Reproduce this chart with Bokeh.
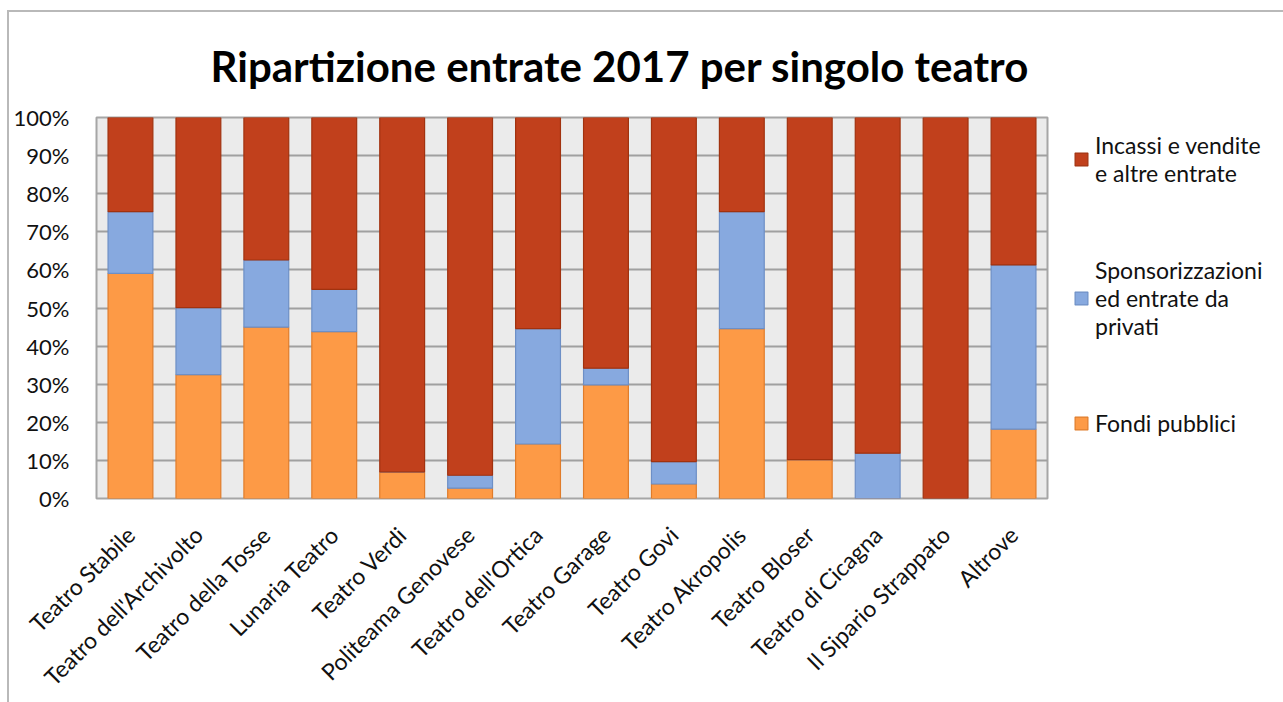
from bokeh.plotting import figure
from bokeh.models import (ColumnDataSource, Range1d, FactorRange, FixedTicker,
                          PrintfTickFormatter, Legend, LegendItem)
from bokeh.embed import file_html
from bokeh.resources import INLINE
import math

teatri = ["Teatro Stabile", "Teatro dell'Archivolto", "Teatro della Tosse",
          "Lunaria Teatro", "Teatro Verdi", "Politeama Genovese",
          "Teatro dell'Ortica", "Teatro Garage", "Teatro Govi",
          "Teatro Akropolis", "Teatro Bloser", "Teatro di Cicagna",
          "Il Sipario Strappato", "Altrove"]
fondi_pubblici = [59.1, 32.5, 45.0, 43.8, 7.0, 2.7, 14.3, 29.8, 3.8, 44.6, 10.2, 0.0, 0.0, 18.2]
sponsorizzazioni = [16.2, 17.6, 17.6, 11.1, 0.0, 3.4, 30.3, 4.4, 5.9, 30.7, 0.0, 11.9, 0.0, 43.1]
incassi = [24.7, 49.9, 37.4, 45.1, 93.0, 93.9, 55.4, 65.8, 90.3, 24.7, 89.8, 88.1, 100.0, 38.7]
serie = ["fondi", "sponsor", "incassi"]
nomi_legenda = ["Fondi pubblici",
                "Sponsorizzazioni\ned entrate da\nprivati",
                "Incassi e vendite\ne altre entrate"]
colori = ["#fd9a46", "#87a9df", "#c1401c"]
bordi = ["#e07c2a", "#6d8fc6", "#a1320f"]
titolo = "Ripartizione entrate 2017 per singolo teatro"
yticks = list(range(0, 101, 10))

FONT = "Lato"

source = ColumnDataSource(dict(teatro=teatri, fondi=fondi_pubblici,
                               sponsor=sponsorizzazioni, incassi=incassi))

p = figure(x_range=FactorRange(factors=teatri, range_padding=0),
           y_range=Range1d(0, 100),
           frame_width=951, frame_height=381,
           min_border_left=87, min_border_right=228,
           min_border_top=105, min_border_bottom=186,
           output_backend="svg", toolbar_location=None, tools="")

renderers = p.vbar_stack(serie, x="teatro", width=0.66, source=source,
                         fill_color=colori, line_color=bordi, line_width=1.2)

p.background_fill_color = "#ebebeb"
p.outline_line_color = "#a6a6a6"
p.outline_line_width = 2
p.xgrid.grid_line_color = None
p.ygrid.grid_line_color = "#a0a0a0"
p.ygrid.grid_line_width = 2
p.yaxis.ticker = FixedTicker(ticks=yticks)
p.yaxis.formatter = PrintfTickFormatter(format="%d%%")

for ax in (p.xaxis[0], p.yaxis[0]):
    ax.axis_line_color = None
    ax.major_tick_line_color = None
    ax.minor_tick_line_color = None
    ax.major_label_text_font = FONT
    ax.major_label_text_color = "#111111"
p.yaxis.major_label_text_font_size = "22px"
p.xaxis.major_label_text_font_size = "23px"
p.yaxis.major_label_standoff = 21
p.xaxis.major_label_standoff = 26
p.xaxis.major_label_orientation = math.pi / 4

p.title.text = titolo
p.title.align = "left"
p.title.offset = 114
p.title.vertical_align = "top"
p.title.standoff = 50
p.title.text_font = FONT
p.title.text_font_size = "42px"
p.title.text_font_style = "bold"
p.title.text_color = "#000000"

items = [LegendItem(label=nomi_legenda[i], renderers=[renderers[i]]) for i in (2, 1, 0)]
legend = Legend(items=items, location=(26, 61), orientation="vertical",
                margin=0, padding=0, spacing=69,
                label_text_font=FONT, label_text_font_size="23px",
                label_text_color="#111111", label_text_line_height=1.5,
                label_standoff=6, glyph_width=16, glyph_height=16,
                border_line_color=None, background_fill_alpha=0)
p.add_layout(legend, "right")

p.border_fill_color = "white"
p.styles = {"border-left": "2px solid #b9b9b9", "border-top": "2px solid #b9b9b9",
            "margin-left": "7px", "margin-top": "10px"}

open("out.html", "w").write(file_html(p, INLINE))
